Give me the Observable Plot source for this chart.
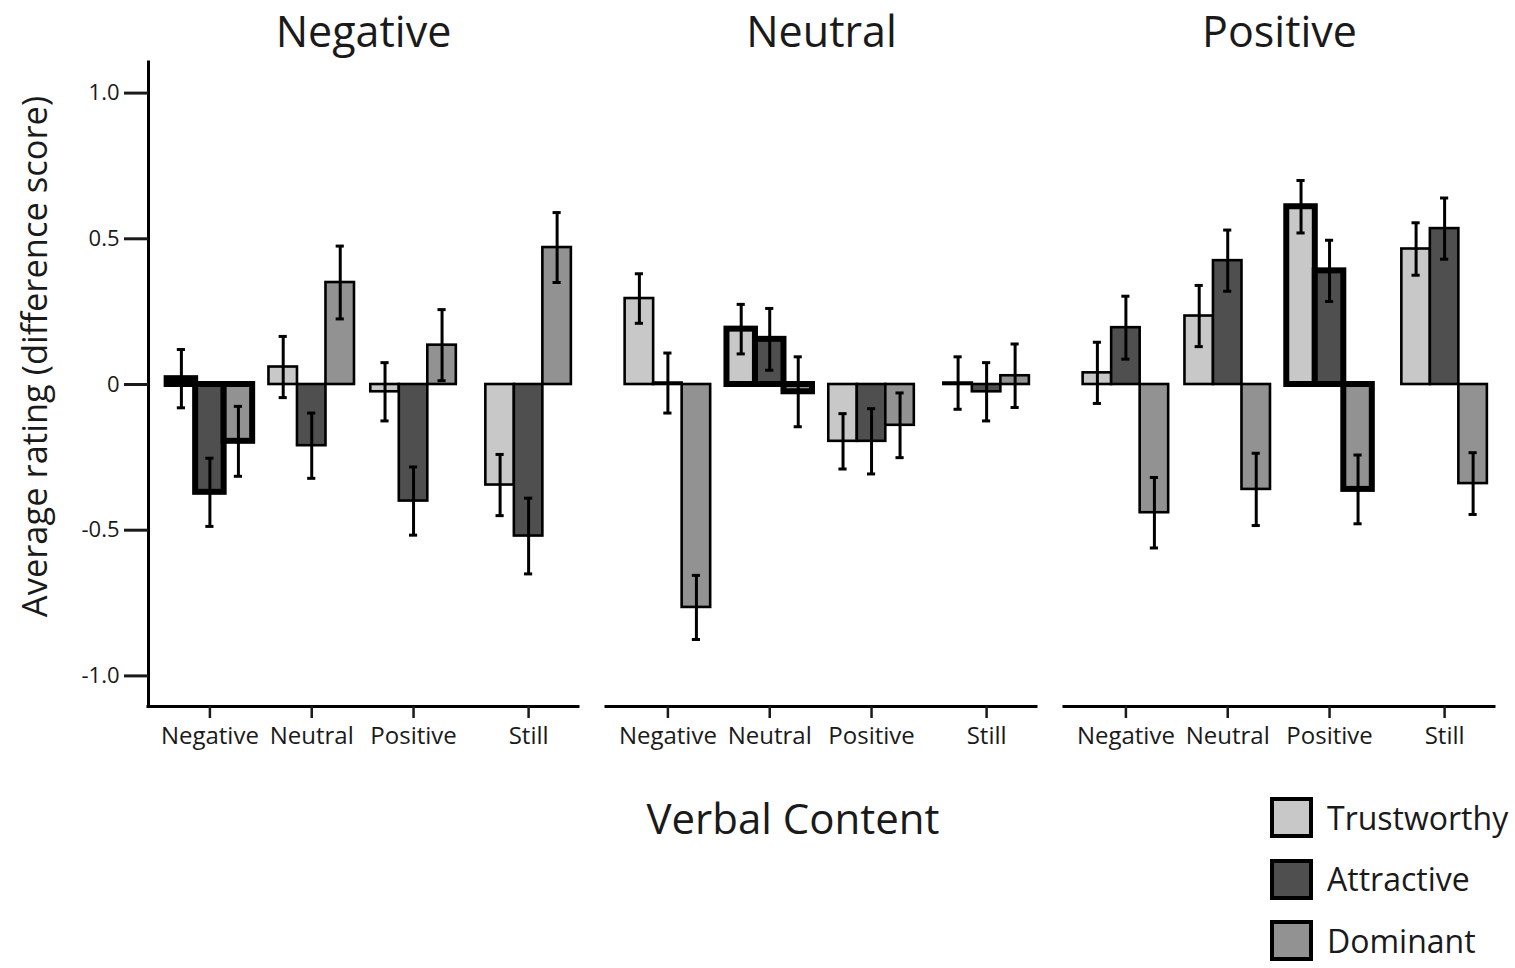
<!DOCTYPE html>
<html>
<head>
<meta charset="utf-8">
<script src="https://cdn.jsdelivr.net/npm/d3@7"></script>
<script src="https://cdn.jsdelivr.net/npm/@observablehq/plot@0.6"></script>
<style>
  body { margin: 0; background: #fff; }
  #chart { position: relative; width: 1515px; height: 968px; font-family: 'Open Sans', sans-serif; color: #1a1a1a; overflow: hidden; }
  #chart svg { position: absolute; left: 0; top: 0; }
  #xlabel { position: absolute; left: 593px; width: 400px; top: 797px; text-align: center; font-size: 42px; line-height: 1; }
  #legend { position: absolute; left: 1270px; top: 797px; }
  .row { display: flex; align-items: center; height: 41px; margin-bottom: 20.5px; }
  .sw { box-sizing: border-box; width: 43px; height: 41px; border: 4px solid #000; }
  .lab { margin-left: 14px; font-size: 32px; line-height: 1; }
</style>
</head>
<body>
<div id="chart">
  <div id="xlabel">Verbal Content</div>
  <div id="legend"></div>
</div>
<script>
// Facets: nonverbal content; groups: verbal content; bars: rated trait
const panels = ["Negative", "Neutral", "Positive"];
const verbalLevels = ["Negative", "Neutral", "Positive", "Still"];
const traits = ["Trustworthy", "Attractive", "Dominant"];
const traitColors = ["#c8c8c8", "#4f4f4f", "#929292"];
const yTicks = [-1, -0.5, 0, 0.5, 1];

// Mean difference scores, ordered panel by panel, verbal level within panel
const meanTrustworthy = [0.02, 0.06, -0.025, -0.345,   0.295, 0.19, -0.195, 0.005,   0.04, 0.235, 0.61, 0.465];
const meanAttractive  = [-0.37, -0.21, -0.40, -0.52,   0.005, 0.155, -0.195, -0.025,  0.195, 0.425, 0.39, 0.535];
const meanDominant    = [-0.195, 0.35, 0.135, 0.47,    -0.765, -0.025, -0.14, 0.03,   -0.44, -0.36, -0.36, -0.34];

// Standard errors, same order
const seTrustworthy = [0.10, 0.105, 0.10, 0.105,   0.085, 0.085, 0.095, 0.09,   0.105, 0.105, 0.09, 0.09];
const seAttractive  = [0.117, 0.112, 0.117, 0.13,  0.103, 0.106, 0.112, 0.10,   0.108, 0.105, 0.105, 0.105];
const seDominant    = [0.12, 0.125, 0.122, 0.12,   0.11, 0.12, 0.111, 0.109,    0.121, 0.124, 0.118, 0.106];

const means = { Trustworthy: meanTrustworthy, Attractive: meanAttractive, Dominant: meanDominant };
const ses = { Trustworthy: seTrustworthy, Attractive: seAttractive, Dominant: seDominant };

// Layout along the within-panel x axis (group slots, bar width, cap half-width)
const slot = [0, 1, 2, 3.13];
const barW = 0.28;
const capHalf = 0.04;
const xDomain = [-0.603, 3.62];
const yDomain = [-1.105, 1.105];

const rows = panels.flatMap((panel, pi) =>
  verbalLevels.flatMap((verbal, vi) =>
    traits.map((trait, ti) => {
      const k = pi * verbalLevels.length + vi;
      const xc = slot[vi] + (ti - 1) * barW;
      return {
        panel, verbal, trait,
        mean: means[trait][k], se: ses[trait][k],
        xc, x1: xc - barW / 2, x2: xc + barW / 2,
        congruent: panel === verbal
      };
    })
  )
);

const barOpts = { fx: "panel", x1: "x1", x2: "x2", y1: 0, y2: "mean", fill: "trait", stroke: "#000" };

const svg = Plot.plot({
  width: 1515,
  height: 766,
  marginLeft: 147,
  marginRight: 19,
  marginTop: 62,
  marginBottom: 60,
  style: { fontFamily: "'Open Sans', sans-serif", color: "#1a1a1a", background: "transparent" },
  fx: { domain: panels, paddingInner: 0.061, paddingOuter: 0, axis: null, label: null },
  x: { domain: xDomain, label: null },
  y: { domain: yDomain, label: null },
  color: { domain: traits, range: traitColors },
  marks: [
    // bars
    Plot.rect(rows.filter(d => !d.congruent), { ...barOpts, strokeWidth: 2.6 }),
    Plot.rect(rows.filter(d => d.congruent), { ...barOpts, strokeWidth: 6 }),
    // error bars with caps
    Plot.ruleX(rows, { fx: "panel", x: "xc", y1: d => d.mean - d.se, y2: d => d.mean + d.se, stroke: "#000", strokeWidth: 3 }),
    Plot.ruleY(rows, { fx: "panel", y: d => d.mean - d.se, x1: d => d.xc - capHalf, x2: d => d.xc + capHalf, stroke: "#000", strokeWidth: 3 }),
    Plot.ruleY(rows, { fx: "panel", y: d => d.mean + d.se, x1: d => d.xc - capHalf, x2: d => d.xc + capHalf, stroke: "#000", strokeWidth: 3 }),
    // axis lines
    Plot.ruleY([yDomain[0]], { stroke: "#000", strokeWidth: 3, strokeLinecap: "square" }),
    Plot.ruleX([{ panel: "Negative" }], { fx: "panel", x: () => xDomain[0], y1: yDomain[0], y2: yDomain[1], stroke: "#000", strokeWidth: 3, strokeLinecap: "square" }),
    // axes
    Plot.axisY({
      ticks: yTicks, tickSize: 24, tickPadding: 5, strokeWidth: 3, fontSize: 22,
      tickFormat: d => (d === 0 ? "0" : d.toFixed(1)), label: null
    }),
    Plot.axisX({
      ticks: slot, tickSize: 12, tickPadding: 8, strokeWidth: 2.5, fontSize: 24,
      tickFormat: d => verbalLevels[slot.indexOf(d)], label: null
    }),
    // panel titles
    Plot.text(panels, { fx: d => d, text: d => d, frameAnchor: "top", dy: -29, fontSize: 43, lineAnchor: "middle", fill: "#1a1a1a" }),
    // y axis title, drawn in the first panel only
    Plot.text([{ panel: "Negative", t: "Average rating (difference score)" }], {
      fx: "panel", text: "t", frameAnchor: "left", textAnchor: "middle", dx: -113, dy: -28, rotate: -90,
      fontSize: 34.5, lineAnchor: "middle", fill: "#1a1a1a"
    })
  ]
});

const chart = document.getElementById("chart");
chart.insertBefore(svg, chart.firstChild);

// legend
const legend = document.getElementById("legend");
traits.forEach((t, i) => {
  const row = document.createElement("div");
  row.className = "row";
  const sw = document.createElement("div");
  sw.className = "sw";
  sw.style.background = traitColors[i];
  const lab = document.createElement("div");
  lab.className = "lab";
  lab.textContent = t;
  row.appendChild(sw);
  row.appendChild(lab);
  legend.appendChild(row);
});
</script>
</body>
</html>
